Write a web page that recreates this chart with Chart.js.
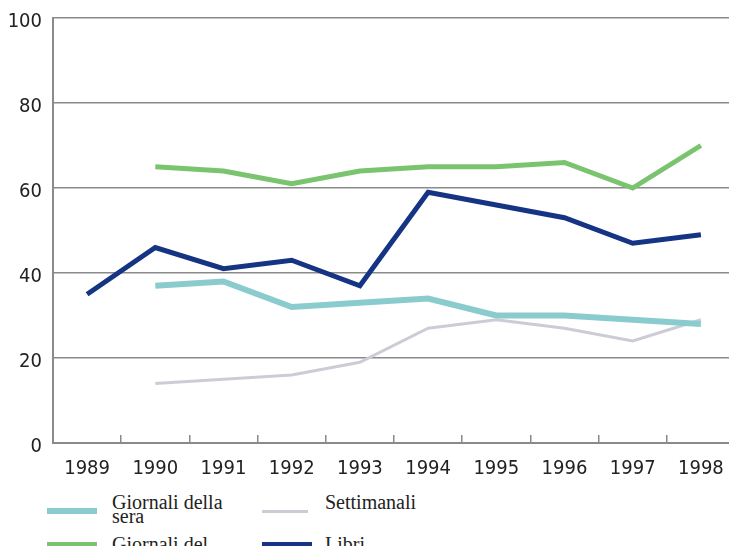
<!DOCTYPE html>
<html>
<head>
<meta charset="utf-8">
<script src="https://cdn.jsdelivr.net/npm/chart.js@4"></script>
<style>
    html, body { margin: 0; padding: 0; background: #fff; overflow: hidden; width: 729px; height: 546px; }
    #wrap { position: relative; width: 729px; height: 546px; overflow: hidden; }
    #chart { position: absolute; left: 0; top: 0; }
    .swatch { position: absolute; }
    .text { position: absolute; width: 126px; font-family: 'Liberation Serif', 'DejaVu Serif', serif; font-size: 20px; line-height: 14px; color: #222; }
</style>
</head>
<body>
<div id="wrap">
    <canvas id="chart" width="740" height="490"></canvas>
    <div id="legend"></div>
</div>
<script>
// Data
const years = ['1989', '1990', '1991', '1992', '1993', '1994', '1995', '1996', '1997', '1998'];
const giornaliSera = [null, 37, 38, 32, 33, 34, 30, 30, 29, 28];
const settimanali = [null, 14, 15, 16, 19, 27, 29, 27, 24, 29];
const giornaliMattino = [null, 65, 64, 61, 64, 65, 65, 66, 60, 70];
const libri = [35, 46, 41, 43, 37, 59, 56, 53, 47, 49];
const yTicks = [0, 20, 40, 60, 80, 100];

const seriesInfo = [
    { label: 'Giornali della sera', data: giornaliSera, color: 'rgb(138, 204, 206)', width: 6 },
    { label: 'Settimanali', data: settimanali, color: 'rgb(204, 204, 214)', width: 3 },
    { label: 'Giornali del mattino', data: giornaliMattino, color: 'rgb(122, 196, 112)', width: 5 },
    { label: 'Libri', data: libri, color: 'rgb(22, 52, 132)', width: 5 }
];

// HTML legend, two columns, cut off at the bottom like the scan
const legendPos = [
    { sx: 47, sw: 50, sy: 511, tx: 112, ty: 495 },
    { sx: 262, sw: 46, sy: 511, tx: 325, ty: 495 },
    { sx: 47, sw: 50, sy: 544, tx: 112, ty: 537 },
    { sx: 262, sw: 50, sy: 544, tx: 325, ty: 537 }
];
const legendEl = document.getElementById('legend');
seriesInfo.forEach((s, i) => {
    const p = legendPos[i];
    const sw = document.createElement('div');
    sw.className = 'swatch';
    sw.style.left = p.sx + 'px';
    sw.style.width = p.sw + 'px';
    sw.style.height = s.width + 'px';
    sw.style.top = (p.sy - s.width / 2) + 'px';
    sw.style.background = s.color;
    const tx = document.createElement('div');
    tx.className = 'text';
    tx.style.left = p.tx + 'px';
    tx.style.top = p.ty + 'px';
    tx.textContent = s.label;
    legendEl.appendChild(sw);
    legendEl.appendChild(tx);
});

const ctx = document.getElementById('chart').getContext('2d');
new Chart(ctx, {
    type: 'line',
    data: {
        labels: years,
        datasets: seriesInfo.map(s => ({
            label: s.label,
            data: s.data,
            borderColor: s.color,
            backgroundColor: s.color,
            borderWidth: s.width,
            pointRadius: 0,
            tension: 0,
            fill: false,
            borderJoinStyle: 'miter'
        }))
    },
    options: {
        responsive: false,
        animation: false,
        layout: { padding: { top: 18, right: 5, left: 0, bottom: 0 } },
        plugins: {
            legend: { display: false },
            tooltip: { enabled: false }
        },
        scales: {
            x: {
                offset: true,
                afterFit: function(scale) {
                    scale.height = 47;
                    scale.paddingLeft = 0;
                    scale.paddingRight = 0;
                },
                grid: {
                    offset: true,
                    drawOnChartArea: false,
                    drawTicks: true,
                    tickLength: -8,
                    color: '#8a8a8a',
                    lineWidth: 1.5
                },
                border: { display: true, color: '#8a8a8a', width: 2 },
                ticks: {
                    color: '#222',
                    padding: 22,
                    maxRotation: 0,
                    autoSkip: false,
                    font: { family: "'DejaVu Sans Condensed', 'DejaVu Sans', sans-serif", size: 20 }
                }
            },
            y: {
                min: 0,
                max: 100,
                afterFit: function(scale) {
                    scale.width = 53;
                    scale.paddingTop = 0;
                    scale.paddingBottom = 0;
                },
                afterBuildTicks: function(scale) { scale.ticks = yTicks.map(v => ({ value: v })); },
                grid: {
                    drawTicks: false,
                    color: '#8a8a8a',
                    lineWidth: 1.5
                },
                border: { display: true, color: '#8a8a8a', width: 2 },
                ticks: {
                    color: '#222',
                    padding: 11,
                    labelOffset: 4,
                    font: { family: "'DejaVu Sans Condensed', 'DejaVu Sans', sans-serif", size: 20 }
                }
            }
        }
    }
});
</script>
</body>
</html>
